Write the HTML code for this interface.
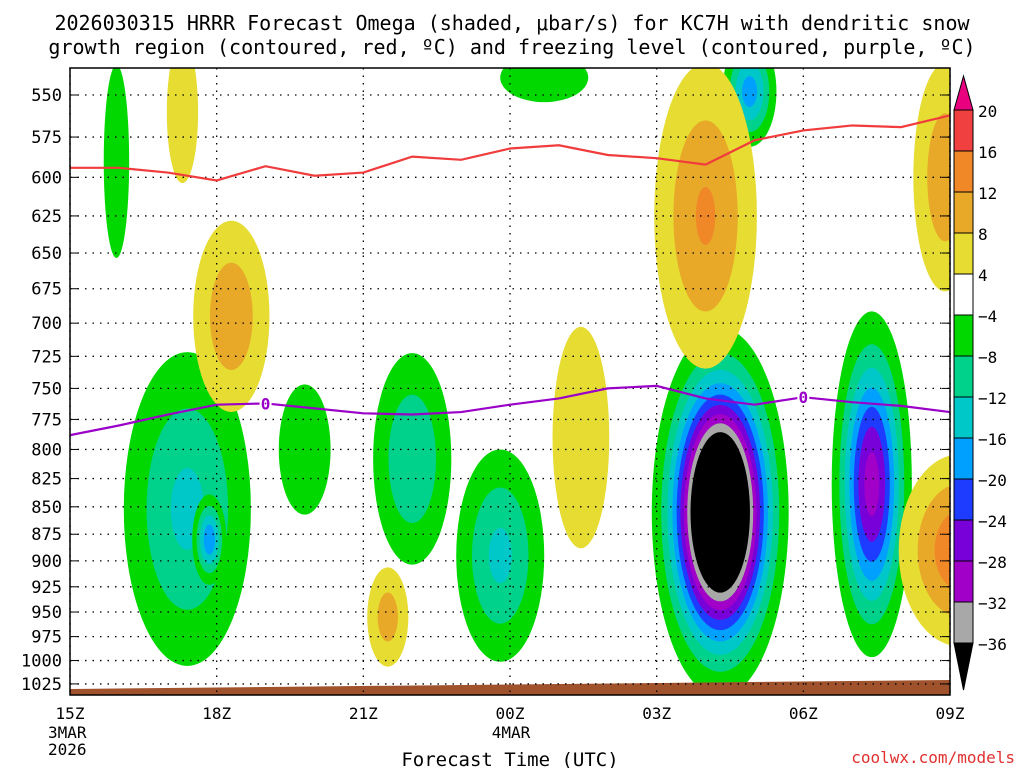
<!DOCTYPE html>
<html><head><meta charset="utf-8">
<style>
body{margin:0;background:#fff;width:1024px;height:768px;overflow:hidden}
svg{display:block}
text{font-family:"DejaVu Sans Mono","Liberation Mono",monospace;}
</style></head>
<body>
<svg id="chart" width="1024" height="768">
<text x="512" y="30" font-size="20" text-anchor="middle">2026030315 HRRR Forecast Omega (shaded, μbar/s) for KC7H with dendritic snow</text>
<text x="512" y="54" font-size="20" text-anchor="middle">growth region (contoured, red, ºC) and freezing level (contoured, purple, ºC)</text>
<defs><clipPath id="pc"><rect x="70" y="68" width="880" height="627"/></clipPath></defs>
<g id="fields" clip-path="url(#pc)"></g>
<g id="grid"></g>
<g id="lines" clip-path="url(#pc)"></g>
<rect x="70" y="68" width="880" height="627" fill="none" stroke="#000" stroke-width="1.5"/>
<g id="axes"></g>
<g id="cbar"></g>
<text x="510" y="766" font-size="19" text-anchor="middle">Forecast Time (UTC)</text>
<text x="1015" y="763" font-size="16" fill="#e03030" text-anchor="end">coolwx.com/models</text>
</svg>
<script>
// ---- data ----
const hours=[0,1,2,3,4,5,6,7,8,9,10,11,12,13,14,15,16,17,18];
const dgzPressure=[594,594,597,602,593,599,597,587,589,582,580,586,588,592,577,571,568,569,562];
const frzPressure=[788,780,771,763,762,766,770,771,769,763,758,750,748,758,763,757,761,764,769];
const xTickHours=[0,3,6,9,12,15,18];
const xTickLabels=["15Z","18Z","21Z","00Z","03Z","06Z","09Z"];
const yTicks=[550,575,600,625,650,675,700,725,750,775,800,825,850,875,900,925,950,975,1000,1025];
// omega features: center hour, center pressure, half-width (h), half-height (hPa), peak (μbar/s)
const blobT=[0.95,2.4,2.85,4.8,7.0,8.8,9.7,13.3,16.4,13.9,2.3,3.3,6.5,10.45,13.0,17.9,18.2];
const blobP=[590,852,880,800,808,895,540,855,830,548,560,695,955,790,625,600,890];
const blobW=[0.26,1.3,0.35,0.53,0.8,0.9,0.9,1.4,0.82,0.55,0.32,0.78,0.42,0.58,1.05,0.65,1.25];
const blobH=[60,140,42,55,90,100,14,165,150,32,42,70,50,92,100,72,90];
const blobPeak=[-7,-13,-19,-7,-12,-13,-6,-60,-30,-18,6,11,10,6,12.5,11,15];
const levels=[4,8,12,16,20,24,28,32,36];
const negColors=["#00d800","#00d28c","#00c8c8","#00a0ff","#1e3cff","#7800d8","#a000c8","#a8a8a8","#000000"];
const posColors=["#e6dc32","#e8a828","#f08828","#f04040","#e8007f"];
// ---- scales (log-pressure) ----
const X=h=>70+h*(880/18);
const Y=p=>95+946*Math.log(p/550);
const NS="http://www.w3.org/2000/svg";
function mk(tag,attrs,parent){const e=document.createElementNS(NS,tag);for(const k in attrs)e.setAttribute(k,attrs[k]);parent.appendChild(e);return e;}
const F=document.getElementById('fields');
blobT.forEach((t,i)=>{
  const pk=blobPeak[i],a=Math.abs(pk);
  const ryFull=(Y(blobP[i]+blobH[i])-Y(blobP[i]-blobH[i]))/2;
  levels.forEach((L,j)=>{
    if(a<=L)return;
    const cols=pk<0?negColors:posColors;
    if(j>=cols.length)return;
    const s=Math.sqrt(Math.log(a/L)/Math.log(a/4));
    const e=mk('ellipse',{cx:X(t),cy:Y(blobP[i]),rx:blobW[i]*880/18*s,ry:ryFull*s,fill:cols[j]},F);
    
    
  });
});
// terrain
const terr=mk('polygon',{points:`70,689 950,680 950,695 70,695`,fill:"#a0522d"},F);


// grid + axes
const G=document.getElementById('grid'),A=document.getElementById('axes');
yTicks.forEach(p=>{
  const l=mk('line',{x1:70,x2:950,y1:Y(p),y2:Y(p),stroke:"#000","stroke-width":1.3,"stroke-dasharray":"1.5 6"},G);
  
  
  mk('line',{x1:70,x2:78,y1:Y(p),y2:Y(p),stroke:"#000"},A);
  mk('line',{x1:942,x2:950,y1:Y(p),y2:Y(p),stroke:"#000"},A);
  const tx=mk('text',{x:62,y:Y(p)+6,"font-size":17,"text-anchor":"end"},A);
  tx.textContent=p;
  
  
});
xTickHours.forEach((h,i)=>{
  const l=mk('line',{x1:X(h),x2:X(h),y1:68,y2:695,stroke:"#000","stroke-width":1.3,"stroke-dasharray":"1.5 6"},G);
  
  
  const tx=mk('text',{x:X(h),y:719,"font-size":16,"text-anchor":"middle"},A);
  tx.textContent=xTickLabels[i];
  
  
});
[["3MAR",48,738],["2026",48,755],["4MAR",511,738]].forEach(d=>{
  const tx=mk('text',{x:d[1],y:d[2],"font-size":16},A);
  if(d[0]==="4MAR")tx.setAttribute('text-anchor','middle');
  tx.textContent=d[0];
  
  
});
// lines
const Lg=document.getElementById('lines');
const dgz=mk('polyline',{points:hours.map((h,i)=>X(h)+','+Y(dgzPressure[i])).join(' '),fill:"none",stroke:"#f03c3c","stroke-width":2.2},Lg);


const frz=mk('polyline',{points:hours.map((h,i)=>X(h)+','+Y(frzPressure[i])).join(' '),fill:"none",stroke:"#9a00c8","stroke-width":2.2},Lg);


[4,15].forEach(h=>{
  const i=hours.indexOf(h);
  mk('rect',{x:X(h)-6,y:Y(frzPressure[i])-8,width:12,height:16,fill:"#fff"},Lg);
  const tx=mk('text',{x:X(h),y:Y(frzPressure[i])+6,"font-size":16,"font-weight":"bold",fill:"#9a00c8","text-anchor":"middle"},Lg);
  tx.textContent="0";
  
  
});
// colorbar
const C=document.getElementById('cbar');
const cbVals=[20,16,12,8,4,-4,-8,-12,-16,-20,-24,-28,-32,-36];
const cbCols=["#f04040","#f08828","#e8a828","#e6dc32","#ffffff","#00d800","#00d28c","#00c8c8","#00a0ff","#1e3cff","#7800d8","#a000c8","#a8a8a8"];
const cy=i=>110+i*41;
mk('polygon',{points:`954,110 973,110 963.5,76`,fill:"#e8007f",stroke:"#000"},C);
cbCols.forEach((c,i)=>{mk('rect',{x:954,y:cy(i),width:19,height:41,fill:c,stroke:"#000"},C);});
mk('polygon',{points:`954,643 973,643 963.5,690`,fill:"#000",stroke:"#000"},C);
cbVals.forEach((v,i)=>{
  const tx=mk('text',{x:978,y:cy(i)+7,"font-size":16},C);
  tx.textContent=v<0?"−"+(-v):v;
  
  
});
</script>
</body></html>
